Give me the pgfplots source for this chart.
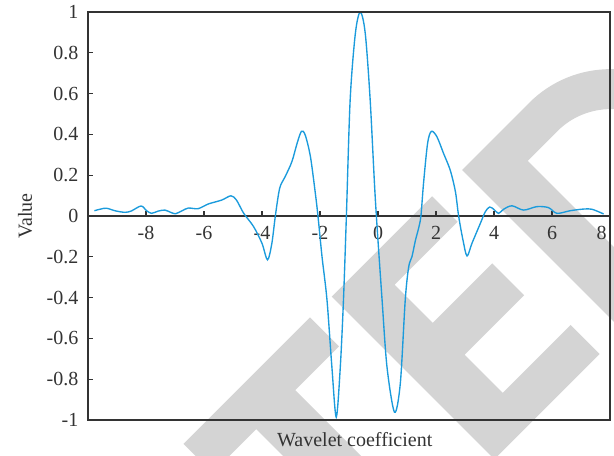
\documentclass[border=0pt]{standalone}
\usepackage{pgfplots}
\pgfplotsset{compat=1.18}
\usepackage{pgfplotstable}
\usepackage{fontspec}
\setmainfont{Liberation Serif}

\definecolor{wave}{RGB}{27,155,220}
\definecolor{stamp}{RGB}{212,212,212}
\definecolor{axisgray}{RGB}{51,51,51}

% sampled wavelet
\pgfplotstableread{
x y
-9.78 0.026
-9.56 0.034
-9.36 0.038
-9.05 0.025
-8.72 0.018
-8.50 0.025
-8.17 0.049
-7.98 0.026
-7.81 0.013
-7.58 0.024
-7.35 0.029
-7.15 0.018
-6.98 0.011
-6.75 0.026
-6.54 0.039
-6.20 0.036
-5.85 0.059
-5.39 0.078
-5.07 0.099
-4.88 0.078
-4.63 0.013
-4.29 -0.052
-4.00 -0.134
-3.81 -0.215
-3.66 -0.134
-3.54 0.0
-3.39 0.136
-3.20 0.193
-2.97 0.266
-2.79 0.356
-2.64 0.415
-2.51 0.397
-2.33 0.291
-2.16 0.110
-2.07 0.0
-1.93 -0.2
-1.76 -0.41
-1.59 -0.74
-1.44 -0.986
-1.30 -0.74
-1.19 -0.41
-1.09 0.0
-0.96 0.569
-0.78 0.896
-0.61 1.0
-0.44 0.896
-0.27 0.569
-0.09 0.078
0.14 -0.41
0.31 -0.74
0.57 -0.962
0.77 -0.82
0.94 -0.41
1.06 -0.248
1.17 -0.2
1.29 -0.12
1.40 -0.06
1.48 0.0
1.57 0.16
1.71 0.356
1.84 0.415
2.03 0.389
2.26 0.307
2.49 0.225
2.67 0.119
2.78 0.0
2.93 -0.118
3.07 -0.196
3.24 -0.134
3.53 -0.036
3.70 0.021
3.85 0.044
3.99 0.033
4.16 0.013
4.33 0.033
4.62 0.050
5.02 0.029
5.48 0.046
5.88 0.041
6.17 0.013
6.63 0.026
7.09 0.034
7.38 0.033
7.78 0.010
}\wavelet

\begin{document}
\begin{tikzpicture}
\useasboundingbox (0,-250.8pt) rectangle (337.7pt,0pt);
% background stamp lettering
\begin{scope}[x=0.55pt,y=-0.55pt]
  \clip (0,0) rectangle (614,456);
  \begin{scope}[shift={(310,317.3)},rotate=45]
    \fill[stamp] (0,0) -- (0,41) -- (-62,41) -- (-62,240) -- (-117,240) -- (-117,41) -- (-179,41) -- (-179,0) -- cycle;
  \end{scope}
  \begin{scope}[shift={(331.7,296.7)},rotate=45]
    \fill[stamp] (0,0) -- (142,0) -- (142,36) -- (53,36) -- (53,90) -- (137,90) -- (137,135) -- (53,135) -- (53,189) -- (149,189) -- (149,230) -- (0,230) -- cycle;
  \end{scope}
  \begin{scope}[shift={(462,170)},rotate=45]
    \fill[stamp,even odd rule] (0,0) -- (95,0) arc[start angle=-90,end angle=90,radius=115] -- (0,230) -- cycle
      (53,40) -- (95,40) arc[start angle=-90,end angle=90,radius=75] -- (53,190) -- cycle;
  \end{scope}
\end{scope}

\begin{axis}[
  name=main,
  at={(48.4pt,-231pt)}, anchor=south west,
  scale only axis, width=287.1pt, height=224.4pt,
  xmin=-10, xmax=8, ymin=-1, ymax=1,
  axis x line=middle, axis y line=left,
  axis line style={-, axisgray, line width=0.8pt},
  xtick={-8,-6,-4,-2,0,2,4,6,8},
  xticklabels={-8,-6,-4,-2,0,2,4,6,\makebox[0pt][r]{8\hspace{1.8pt}}},
  ytick={-1,-0.8,-0.6,-0.4,-0.2,0,0.2,0.4,0.6,0.8,1},
  yticklabels={-1,-0.8,-0.6,-0.4,-0.2,0,0.2,0.4,0.6,0.8,1},
  tick align=inside,
  major tick length=3pt,
  tick style={axisgray, line width=0.6pt},
  hide obscured x ticks=false, hide obscured y ticks=false,
  ticklabel style={font=\fontsize{11}{13}\selectfont, text=axisgray},
  xticklabel style={anchor=center, yshift=-9.5pt},
  yticklabel style={anchor=east, xshift=-1.8pt},
  xlabel={Wavelet coefficient}, ylabel={Value},
  label style={font=\fontsize{11}{13}\selectfont, text=axisgray},
  xlabel style={at={(axis description cs:0.511,-0.049)}, anchor=center},
  ylabel style={at={(axis description cs:-0.1207,0.5)}, anchor=center},
]
\addplot[wave, line width=0.75pt, smooth] table {\wavelet};
\end{axis}
% frame around the plot area
\draw[axisgray, line width=0.8pt] (main.south west) rectangle (main.north east);
\end{tikzpicture}
\end{document}
